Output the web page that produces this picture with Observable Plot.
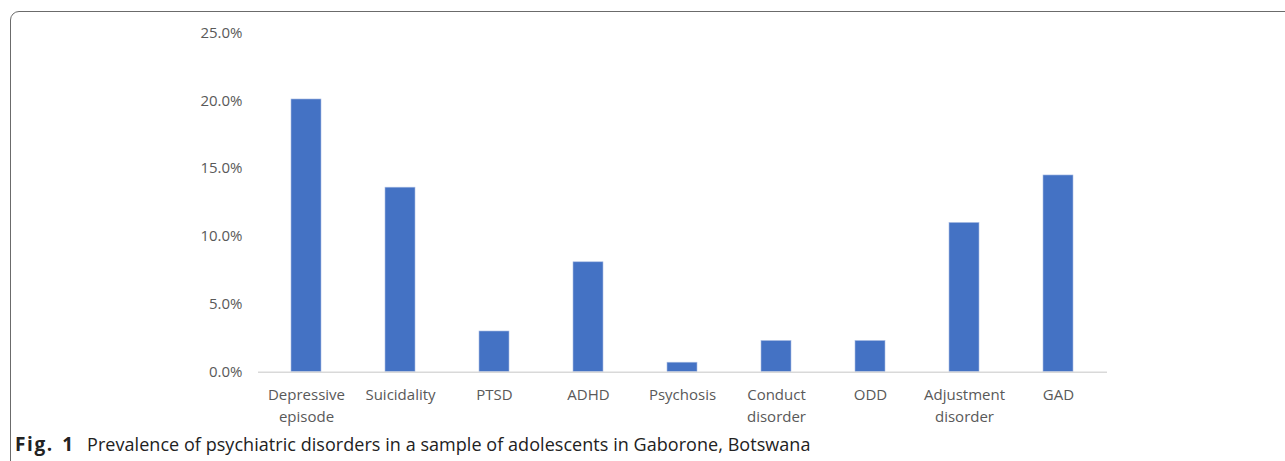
<!DOCTYPE html>
<html>
<head>
<meta charset="utf-8">
<script src="https://cdn.jsdelivr.net/npm/d3@7"></script>
<script src="https://cdn.jsdelivr.net/npm/@observablehq/plot@0.6"></script>
<style>
  html, body { margin: 0; padding: 0; background: #fff; width: 1285px; height: 461px; overflow: hidden; }
  #frame { position: absolute; left: 10px; top: 11px; width: 1400px; height: 470px; border: 1.5px solid #6b6b6b; border-radius: 9px; box-sizing: border-box; }
  #chart { position: absolute; left: 0; top: 0; }
  #caption { position: absolute; left: 15px; top: 434px; font-family: "Open Sans", sans-serif; font-size: 18px; line-height: 20px; color: #222; white-space: nowrap; letter-spacing: 0.05px; }
  #caption b { display: inline-block; width: 72px; font-weight: 700; font-size: 19px; letter-spacing: 1.6px; word-spacing: 2px; }
</style>
</head>
<body>
<div id="frame"></div>
<div id="chart"></div>
<div id="caption"><b>Fig. 1</b>Prevalence of psychiatric disorders in a sample of adolescents in Gaborone, Botswana</div>
<script>
const categories = ["Depressive\nepisode", "Suicidality", "PTSD", "ADHD", "Psychosis", "Conduct\ndisorder", "ODD", "Adjustment\ndisorder", "GAD"];
const values = [20.1, 13.6, 3.0, 8.1, 0.7, 2.3, 2.3, 11.0, 14.5];
const yTicks = [0, 5, 10, 15, 20, 25];

const data = categories.map((c, i) => ({category: c, value: values[i]}));

const chart = Plot.plot({
  width: 1285,
  height: 430,
  marginLeft: 258,
  marginRight: 178,
  marginTop: 32.5,
  marginBottom: 58.3,
  style: {fontFamily: "Open Sans, sans-serif", fontSize: "15px", color: "#595959", background: "transparent"},
  x: {domain: categories, paddingInner: 0.68, paddingOuter: 0.34, label: null},
  y: {domain: [0, 25], label: null},
  marks: [
    Plot.barY(data, {x: "category", y: "value", fill: "#4472C4", stroke: "#aabde3", strokeWidth: 0.6}),
    Plot.ruleY([0], {stroke: "#d9d9d9", strokeWidth: 1.5}),
    Plot.axisY({ticks: yTicks, tickSize: 0, tickPadding: 16, tickFormat: d => d.toFixed(1) + "%", label: null}),
    Plot.axisX({tickSize: 0, tickPadding: 13, lineHeight: 1.43, label: null})
  ]
});
document.getElementById("chart").appendChild(chart);
</script>
</body>
</html>
